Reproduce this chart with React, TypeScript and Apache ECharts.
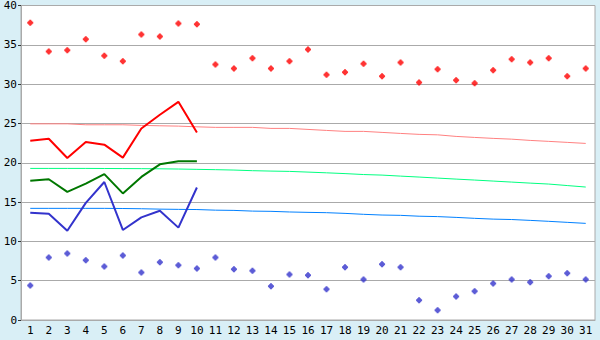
import React, { useEffect, useRef } from "react";
import * as echarts from "echarts";

const days = Array.from({ length: 31 }, (_, i) => String(i + 1));

const recordHigh = [37.8, 34.15, 34.3, 35.7, 33.6, 32.9, 36.3, 36.05, 37.7, 37.6, 32.5, 32.0, 33.3, 32.0, 32.9, 34.4, 31.2, 31.5, 32.6, 31.0, 32.75, 30.2, 31.9, 30.5, 30.1, 31.75, 33.15, 32.75, 33.3, 31.0, 32.0];
const recordLow = [4.4, 7.95, 8.45, 7.6, 6.8, 8.2, 6.05, 7.35, 6.95, 6.55, 7.95, 6.45, 6.25, 4.3, 5.8, 5.7, 3.9, 6.7, 5.15, 7.1, 6.7, 2.5, 1.25, 3.0, 3.65, 4.65, 5.15, 4.8, 5.55, 5.95, 5.15];

const actualMax = [22.8, 23.05, 20.6, 22.65, 22.3, 20.65, 24.35, 26.1, 27.75, 23.85];
const actualMean = [17.7, 17.9, 16.3, 17.35, 18.55, 16.1, 18.2, 19.8, 20.2, 20.2];
const actualMin = [13.65, 13.5, 11.35, 14.9, 17.55, 11.45, 13.05, 13.9, 11.75, 16.85];

const normalMax = [24.95, 24.95, 24.95, 24.83, 24.83, 24.83, 24.75, 24.7, 24.66, 24.57, 24.5, 24.5, 24.5, 24.37, 24.37, 24.24, 24.11, 23.99, 23.99, 23.86, 23.73, 23.61, 23.55, 23.35, 23.22, 23.1, 23.0, 22.84, 22.72, 22.59, 22.46];
const normalMean = [19.28, 19.28, 19.28, 19.28, 19.27, 19.26, 19.25, 19.23, 19.2, 19.16, 19.12, 19.07, 18.99, 18.94, 18.9, 18.81, 18.72, 18.62, 18.5, 18.43, 18.3, 18.18, 18.05, 17.92, 17.8, 17.67, 17.54, 17.41, 17.29, 17.1, 16.91];
const normalMin = [14.2, 14.2, 14.2, 14.2, 14.2, 14.18, 14.15, 14.1, 14.07, 14.05, 13.97, 13.94, 13.85, 13.82, 13.74, 13.69, 13.65, 13.56, 13.44, 13.35, 13.31, 13.2, 13.15, 13.05, 12.93, 12.83, 12.78, 12.67, 12.55, 12.42, 12.29];

const yTicks = [0, 5, 10, 15, 20, 25, 30, 35, 40];

const plusSymbol = "path://M2,0H4V1H5V2H6V4H5V5H4V6H2V5H1V4H0V2H1V1H2Z";

export default function App() {
  const ref = useRef<HTMLDivElement>(null);
  useEffect(() => {
    if (!ref.current) return;
    const chart = echarts.init(ref.current, null, { renderer: "svg" });
    const font = "DejaVu Sans Mono";
    const lineSeries = (name: string, data: number[], color: string, width: number, z: number) => ({
      name,
      type: "line",
      data,
      symbol: "none",
      lineStyle: { color, width },
      z,
      silent: true,
    });
    chart.setOption({
      animation: false,
      backgroundColor: "#d9eff6",
      grid: {
        left: 21,
        right: 5,
        top: 5,
        bottom: 20,
        show: true,
        backgroundColor: "#ffffff",
        borderColor: "#aaaaaa",
        borderWidth: 1,
      },
      xAxis: {
        type: "category",
        data: days,
        boundaryGap: true,
        axisLine: { lineStyle: { color: "#aaaaaa" } },
        axisTick: { alignWithLabel: true, length: 5, lineStyle: { color: "#333333" } },
        axisLabel: { color: "#000", fontFamily: font, fontSize: 11, margin: 5, interval: 0 },
        splitLine: { show: false },
      },
      yAxis: {
        type: "value",
        min: yTicks[0],
        max: yTicks[yTicks.length - 1],
        interval: 5,
        axisLine: { show: true, lineStyle: { color: "#aaaaaa" } },
        axisTick: { show: true, length: 3, lineStyle: { color: "#333333" } },
        axisLabel: { color: "#000", fontFamily: font, fontSize: 11, margin: 4 },
        splitLine: { lineStyle: { color: "#aaaaaa", width: 1 } },
      },
      series: [
        lineSeries("Normal max", normalMax, "#ff8080", 1, 2),
        lineSeries("Normal mean", normalMean, "#00ff80", 1, 2),
        lineSeries("Normal min", normalMin, "#0080ff", 1, 2),
        lineSeries("Max", actualMax, "#ff0000", 2, 3),
        lineSeries("Mean", actualMean, "#007700", 2, 3),
        lineSeries("Min", actualMin, "#3333cc", 2, 3),
        {
          name: "Record high",
          type: "scatter",
          data: recordHigh,
          symbol: plusSymbol,
          symbolSize: 6,
          itemStyle: { color: "#ff0000" },
          z: 4,
        },
        {
          name: "Record low",
          type: "scatter",
          data: recordLow,
          symbol: plusSymbol,
          symbolSize: 6,
          itemStyle: { color: "#3333cc" },
          z: 4,
        },
      ],
    });
    return () => chart.dispose();
  }, []);
  return <div ref={ref} style={{ width: 600, height: 340, position: "absolute", left: 0, top: 0 }} />;
}
